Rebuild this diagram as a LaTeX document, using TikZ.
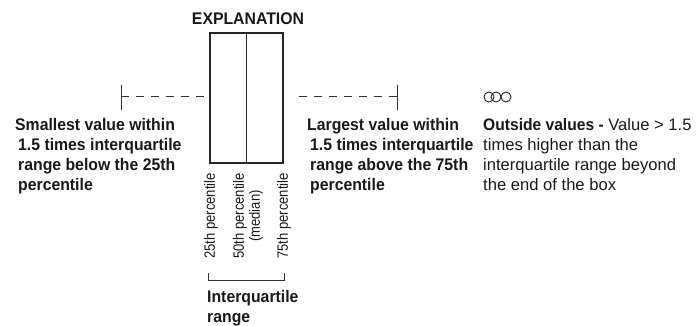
\documentclass[tikz,border=0pt]{standalone}
\usepackage{fontspec}
\setmainfont{Liberation Sans}
\newfontfamily\narrowfont[FakeStretch=0.87]{Liberation Sans}
\newfontfamily\condfont[FakeStretch=0.94]{Liberation Sans}
\begin{document}
\begin{tikzpicture}[x=1pt,y=-1pt,
  boxline/.style={line width=1.4pt,draw=black!85},
  whisker/.style={line width=1pt,draw=black!80,dash pattern=on 8pt off 7pt},
  capline/.style={line width=1pt,draw=black!80},
  outcircle/.style={circle,draw=black!85,line width=0.9pt,minimum size=10pt,inner sep=0pt},
  boldtext/.style={font=\condfont\fontsize{16.8pt}{20pt}\selectfont\bfseries,inner sep=0pt,align=left,text=black!90,anchor=base west},
  plaintext/.style={font=\fontsize{16.6pt}{20pt}\selectfont,inner sep=0pt,align=left,text=black!90,anchor=base west},
  pctl/.style={font=\narrowfont\fontsize{15pt}{16pt}\selectfont,inner sep=0pt,rotate=90,anchor=west,align=center,text=black!90}]
\useasboundingbox (0,0) rectangle (696,326);

% box with median
\node at (248,25) [boldtext,anchor=base] (title) {EXPLANATION};
\node at (246.5,98) [boxline,draw,minimum width=73pt,minimum height=130pt,inner sep=0pt] (box) {};
\draw [boxline,line width=1.8pt] (box.north) -- (box.south);

% whiskers
\coordinate (locap) at (121,97);
\coordinate (hicap) at (397,97);
\draw [capline] ([yshift=-13pt]locap) -- ([yshift=12pt]locap);
\draw [capline] ([yshift=-13pt]hicap) -- ([yshift=12pt]hicap);
\draw [whisker] (locap) -- (box.west |- locap);
\draw [whisker] (hicap) -- ([xshift=9pt]box.east |- hicap);

% outside values
\node at (489,97) [outcircle] (out1) {};
\node at (496,97) [outcircle] (out2) {};
\node at (506,97) [outcircle] (out3) {};

% labels (base = last line)
\node at (15,190) [boldtext] (low) {Smallest value within\\\hspace*{3pt}1.5 times interquartile\\\hspace*{3pt}range below the 25th\\\hspace*{3pt}percentile};
\node at (307,190) [boldtext] (high) {Largest value within\\\hspace*{3pt}1.5 times interquartile\\\hspace*{3pt}range above the 75th\\\hspace*{3pt}percentile};
\node at (483,190) [plaintext] (outside) {\textbf{\condfont Outside values -} Value > 1.5\\times higher than the\\interquartile range beyond\\the end of the box};

% percentiles
\node at (211,259) [pctl] (p25) {25th percentile};
\node at (248,259) [pctl] (p50) {50th percentile\\(median)};
\node at (284,259) [pctl] (p75) {75th percentile};

% interquartile bracket
\coordinate (iqrl) at (208,273);
\coordinate (iqrr) at (284,273);
\draw [capline] (iqrl) -- ++(0,7) -| (iqrr);
\node at (207,322) [boldtext] (iqr) {Interquartile\\range};
\end{tikzpicture}
\end{document}
